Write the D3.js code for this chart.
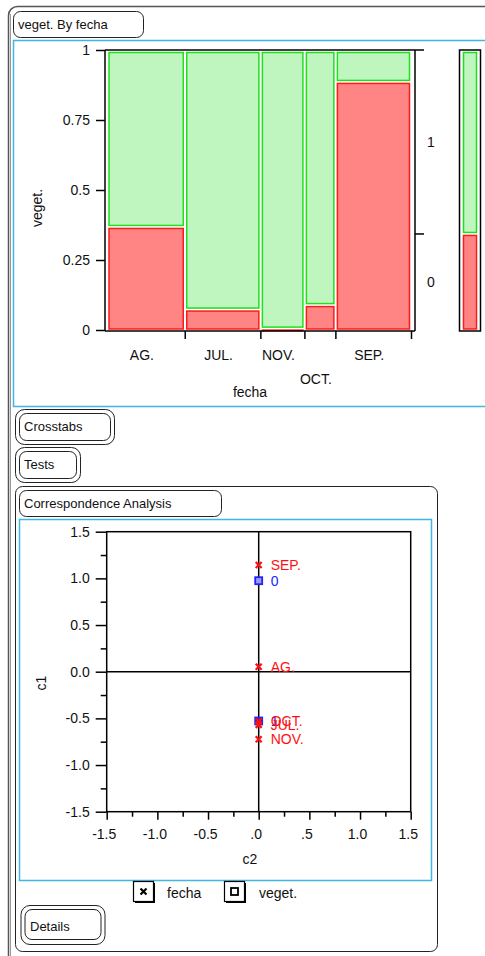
<!DOCTYPE html>
<html>
<head>
<meta charset="utf-8">
<script src="https://cdn.jsdelivr.net/npm/d3@7"></script>
<style>
  body { margin: 0; background: #fff; }
  svg { display: block; font-family: "Liberation Sans", Arial, sans-serif; font-size: 14px; }
  text { fill: #111; }
</style>
</head>
<body>
<div id="chart"></div>
<script>
  // mosaic data (veget. by fecha)
  const fechaCats = ["AG.", "JUL.", "NOV.", "OCT.", "SEP."];
  const fechaShare = [0.256, 0.249, 0.145, 0.102, 0.249];
  const veget0Share = [0.368, 0.073, 0.005, 0.089, 0.886];
  const vegetLevels = ["0", "1"];
  const marginal0 = 0.343;
  const mosaicTicks = [0, 0.25, 0.5, 0.75, 1];
  const mosaicTickLabels = ["0", "0.25", "0.5", "0.75", "1"];

  // correspondence analysis
  const caFecha = ["AG.", "JUL.", "NOV.", "OCT.", "SEP."];
  const caFechaC2 = [0, 0, 0, 0, 0];
  const caFechaC1 = [0.054, -0.57, -0.724, -0.53, 1.143];
  const caVeget = ["0", "1"];
  const caVegetC2 = [0, 0];
  const caVegetC1 = [0.975, -0.528];
  const caTicks = [-1.5, -1.0, -0.5, 0, 0.5, 1.0, 1.5];
  const caXLabels = ["-1.5", "-1.0", "-0.5", ".0", ".5", "1.0", "1.5"];
  const caYLabels = ["-1.5", "-1.0", "-0.5", "0.0", "0.5", "1.0", "1.5"];
  const caMinor = [-1.25, -0.75, -0.25, 0.25, 0.75, 1.25];

  const W = 485, H = 956;
  const red = "#ff1a1a", redFill = "#ff8484";
  const green = "#1ee01e", greenFill = "#bff5bf";
  const blueLine = "#3fb6e6";

  const svg = d3.select("#chart").append("svg")
    .attr("width", W).attr("height", H);

  // rounded outline boxes
  function box(x, y, w, h, r, stroke, sw) {
    svg.append("rect").attr("x", x).attr("y", y).attr("width", w).attr("height", h)
      .attr("rx", r).attr("fill", "none").attr("stroke", stroke || "#222")
      .attr("stroke-width", sw || 1);
  }
  function label(x, y, t, opts) {
    const el = svg.append("text").attr("x", x).attr("y", y).text(t);
    if (opts) Object.keys(opts).forEach(k => el.attr(k, opts[k]));
    return el;
  }

  // outer frame
  box(8.5, 6.5, 500, 1000, 9, "#555", 1.5);
  svg.append("line").attr("x1", 10.5).attr("x2", 10.5).attr("y1", 14).attr("y2", H)
    .attr("stroke", "#999").attr("stroke-width", 1);

  box(13.5, 11.5, 130, 26, 7);
  label(18, 29, "veget. By fecha", { "font-size": "13px" });
  svg.append("rect").attr("x", 13.5).attr("y", 40.5).attr("width", 490).attr("height", 366)
    .attr("fill", "none").attr("stroke", blueLine).attr("stroke-width", 1.5);

  // ---- mosaic ----
  const x = d3.scaleLinear().domain([0, 1]).range([107, 411]);
  const y = d3.scaleLinear().domain([0, 1]).range([330, 50]);

  let cum = 0;
  const cells = fechaCats.map((c, i) => {
    const c0 = cum;
    cum += fechaShare[i];
    return { cat: c, x0: c0, x1: cum, p0: veget0Share[i] };
  });
  x.domain([0, cum]);

  const g = svg.append("g");
  cells.forEach(d => {
    const xa = x(d.x0) + 2, xb = x(d.x1) - 1.5;
    // red (0) part
    g.append("rect").attr("x", xa).attr("y", y(d.p0) + 1.5)
      .attr("width", xb - xa).attr("height", Math.max(0.5, y(0) - y(d.p0) - 2.5))
      .attr("fill", redFill).attr("stroke", red).attr("stroke-width", 1.5);
    // green (1) part
    g.append("rect").attr("x", xa).attr("y", y(1) + 2.5)
      .attr("width", xb - xa).attr("height", Math.max(0.5, y(d.p0) - y(1) - 4))
      .attr("fill", greenFill).attr("stroke", green).attr("stroke-width", 1.5);
  });

  // axes
  const yAxis = d3.axisLeft(y).tickValues(mosaicTicks)
    .tickFormat((d, i) => mosaicTickLabels[i]).tickSize(9).tickPadding(6);
  const ya = svg.append("g").attr("transform", "translate(105,0)").call(yAxis);
  ya.select(".domain").attr("d", "M0,50V331");

  const bounds = cells.map(d => d.x1);
  const xAxis = d3.axisBottom(x).tickValues(bounds).tickFormat("").tickSize(8);
  const xa = svg.append("g").attr("transform", "translate(0,331)").call(xAxis);
  xa.select(".domain").attr("d", "M105,0H415");
  svg.append("line").attr("x1", 105).attr("x2", 424).attr("y1", 50).attr("y2", 50)
    .attr("stroke", "#000").attr("stroke-width", 1.5);

  svg.selectAll(".tick line").attr("stroke", "#000").attr("stroke-width", 1.5);
  svg.selectAll(".domain").attr("stroke", "#000").attr("stroke-width", 1.5);
  svg.selectAll(".tick text").attr("fill", "#111").attr("font-size", "14px")
    .attr("font-family", "Liberation Sans, Arial, sans-serif");

  cells.forEach(d => {
    const cx = (x(d.x0) + x(d.x1)) / 2 - 4;
    label(cx, d.cat === "OCT." ? 384 : 360, d.cat, { "text-anchor": "middle" });
  });
  label(250, 397, "fecha", { "text-anchor": "middle" });
  label(0, 0, "veget.", { "text-anchor": "middle",
    transform: "translate(42,208) rotate(-90)" });

  // right axis for veget levels
  const yr = y(marginal0);
  svg.append("line").attr("x1", 415).attr("x2", 415).attr("y1", 50).attr("y2", 331)
    .attr("stroke", "#000").attr("stroke-width", 1.5);
  svg.append("line").attr("x1", 415).attr("x2", 424).attr("y1", yr).attr("y2", yr)
    .attr("stroke", "#000").attr("stroke-width", 1.5);
  label(431, (y(1) + yr) / 2 + 5, vegetLevels[1], { "text-anchor": "middle" });
  label(431, (yr + y(0)) / 2 + 5, vegetLevels[0], { "text-anchor": "middle" });

  // marginal bar
  svg.append("rect").attr("x", 459.5).attr("y", 50).attr("width", 21).attr("height", 281)
    .attr("fill", "#fff").attr("stroke", "#000").attr("stroke-width", 1.5);
  svg.append("rect").attr("x", 463.5).attr("y", yr + 1.5).attr("width", 13)
    .attr("height", y(0) - yr - 2.5)
    .attr("fill", redFill).attr("stroke", red).attr("stroke-width", 1.5);
  svg.append("rect").attr("x", 463.5).attr("y", y(1) + 2.5).attr("width", 13)
    .attr("height", yr - y(1) - 4)
    .attr("fill", greenFill).attr("stroke", green).attr("stroke-width", 1.5);

  // ---- sub panels ----
  box(15.5, 409.5, 99, 35, 9);
  box(19.5, 413.5, 91, 27, 7);
  label(24, 431, "Crosstabs", { "font-size": "13px" });
  box(15.5, 447.5, 65, 35, 9);
  box(19.5, 451.5, 57, 27, 7);
  label(24, 469, "Tests", { "font-size": "13px" });

  box(15.5, 486.5, 422, 465, 7);
  box(19.5, 490.5, 202, 26, 7);
  label(24, 508, "Correspondence Analysis", { "font-size": "13px" });
  svg.append("rect").attr("x", 19.5).attr("y", 519.5).attr("width", 412).attr("height", 361)
    .attr("fill", "none").attr("stroke", blueLine).attr("stroke-width", 1.5);

  // ---- CA plot ----
  const cx = d3.scaleLinear().domain([-1.5, 1.5]).range([106.7, 410.7]);
  const cy = d3.scaleLinear().domain([-1.5, 1.5]).range([811.7, 531.7]);
  const ca = svg.append("g");

  ca.append("rect").attr("x", cx(-1.5)).attr("y", cy(1.5))
    .attr("width", cx(1.5) - cx(-1.5)).attr("height", cy(-1.5) - cy(1.5))
    .attr("fill", "none").attr("stroke", "#000").attr("stroke-width", 1.5);
  ca.append("line").attr("x1", cx(0)).attr("x2", cx(0)).attr("y1", cy(1.5)).attr("y2", cy(-1.5))
    .attr("stroke", "#000").attr("stroke-width", 1.5);
  ca.append("line").attr("x1", cx(-1.5)).attr("x2", cx(1.5)).attr("y1", cy(0)).attr("y2", cy(0))
    .attr("stroke", "#000").attr("stroke-width", 1.5);

  const cyAxis = d3.axisLeft(cy).tickValues(caTicks)
    .tickFormat((d, i) => caYLabels[i]).tickSize(11).tickPadding(6);
  const cyMinor = d3.axisLeft(cy).tickValues(caMinor).tickFormat("").tickSize(6);
  const cxAxis = d3.axisBottom(cx).tickValues(caTicks)
    .tickFormat((d, i) => caXLabels[i]).tickSize(8).tickPadding(9);
  const cxMinor = d3.axisBottom(cx).tickValues(caMinor).tickFormat("").tickSize(5);

  [[cyAxis, "translate(106.7,0)", 0], [cyMinor, "translate(106.7,0)", 0],
   [cxAxis, "translate(0,811.7)", -3], [cxMinor, "translate(0,811.7)", 0]].forEach(([ax, tr, dx]) => {
    const a = ca.append("g").attr("transform", tr).call(ax);
    a.select(".domain").remove();
    a.selectAll(".tick line").attr("stroke", "#000").attr("stroke-width", 1.5);
    a.selectAll(".tick text").attr("fill", "#111").attr("font-size", "14px").attr("dx", dx)
      .attr("font-family", "Liberation Sans, Arial, sans-serif");
  });

  label(250, 864, "c2", { "text-anchor": "middle" });
  label(0, 0, "c1", { "text-anchor": "middle",
    transform: "translate(46,683) rotate(-90)" });

  // points
  function xMark(sel, px, py, col) {
    sel.append("path").attr("d", `M${px - 3},${py - 3}L${px + 3},${py + 3}M${px - 3},${py + 3}L${px + 3},${py - 3}`)
      .attr("stroke", col).attr("stroke-width", 2.2).attr("fill", "none");
  }
  function sqMark(sel, px, py, col, fill) {
    sel.append("rect").attr("x", px - 3.5).attr("y", py - 3.5).attr("width", 7).attr("height", 7)
      .attr("fill", fill).attr("stroke", col).attr("stroke-width", 1.8);
  }

  caVeget.forEach((v, i) => {
    const px = cx(caVegetC2[i]), py = cy(caVegetC1[i]);
    sqMark(ca, px, py, "#2222ff", i === 1 ? "#2222ff" : "#9a9aff");
    ca.append("text").attr("x", px + 12).attr("y", py + 5).text(v)
      .style("fill", "#2222ff");
  });
  caFecha.forEach((f, i) => {
    const px = cx(caFechaC2[i]), py = cy(caFechaC1[i]);
    xMark(ca, px, py, "#ff1010");
    ca.append("text").attr("x", px + 12).attr("y", py + 5).text(f)
      .style("fill", "#ff1010");
  });

  // legend
  function legendBox(bx, by) {
    svg.append("rect").attr("x", bx + 1.5).attr("y", by + 1.5).attr("width", 20).attr("height", 20)
      .attr("fill", "#000");
    svg.append("rect").attr("x", bx).attr("y", by).attr("width", 20).attr("height", 20)
      .attr("fill", "#fff").attr("stroke", "#000").attr("stroke-width", 1.2);
  }
  legendBox(133.5, 881.5);
  xMark(svg, 143.5, 891.5, "#000");
  label(167, 898, "fecha");
  legendBox(224.5, 881.5);
  sqMark(svg, 234.5, 891.5, "#000", "#fff");
  label(259, 898, "veget.");

  box(21, 905.5, 84, 39, 9);
  box(25, 909.5, 76, 30, 7);
  label(30, 931, "Details", { "font-size": "13px" });
</script>
</body>
</html>
